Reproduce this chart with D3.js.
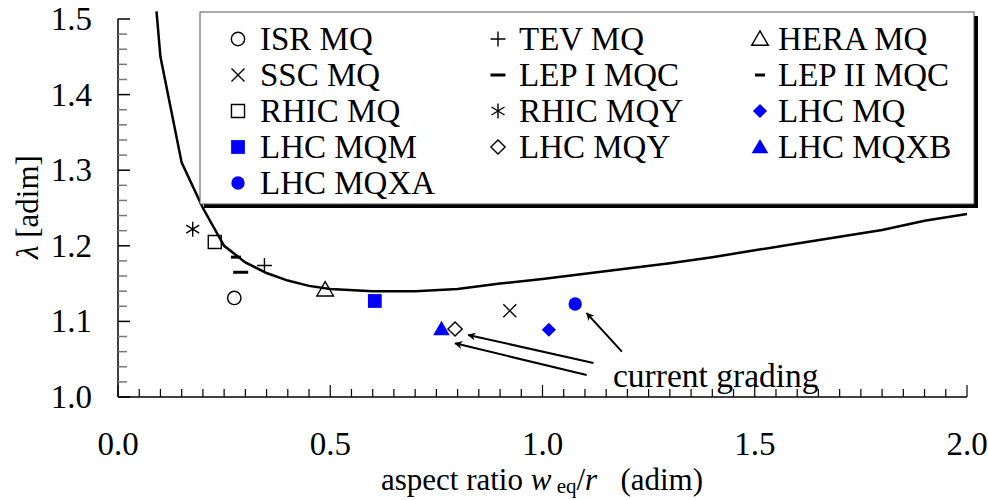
<!DOCTYPE html>
<html>
<head>
<meta charset="utf-8">
<style>
  body { margin: 0; background: #fff; }
  svg text { font-family: "Liberation Serif", "Times New Roman", Times, "DejaVu Serif", serif; }
  .tick-label { font-size: 33px; fill: #000; }
  .legend-label { font-size: 33px; fill: #000; }
  .axis-title { font-size: 31px; fill: #000; }
  .note { font-size: 33.5px; fill: #000; }
</style>
</head>
<body>
<svg width="988" height="500"></svg>
<script src="https://d3js.org/d3.v7.min.js"></script>
<script>
// magnet families
const series = ["ISR MQ", "TEV MQ", "HERA MQ",
                "SSC MQ", "LEP I MQC", "LEP II MQC",
                "RHIC MQ", "RHIC MQY", "LHC MQ",
                "LHC MQM", "LHC MQY", "LHC MQXB",
                "LHC MQXA"];
const aspectRatio = [0.274, 0.345, 0.488, 0.923, 0.289, 0.278, 0.228, 0.176, 1.015, 0.605, 0.794, 0.762, 1.077];
const lambdaVals  = [1.131, 1.174, 1.142, 1.114, 1.165, 1.185, 1.205, 1.222, 1.089, 1.127, 1.090, 1.090, 1.123];

// marker style per series
const markers = ["circle", "plus", "triangle", "x", "dashLong", "dashShort",
                 "square", "asterisk", "diamond", "square", "diamond", "triangle", "circle"];
const filled  = [false, false, false, false, false, false, false, false, true, true, false, true, true];

// lambda curve
const curveX = [0.0907, 0.10, 0.15, 0.20, 0.25, 0.30, 0.35, 0.40, 0.45, 0.50, 0.60, 0.70, 0.80,
                0.90, 1.00, 1.10, 1.20, 1.30, 1.40, 1.50, 1.60, 1.70, 1.80, 1.90, 2.00];
const curveY = [1.510, 1.450, 1.310, 1.250, 1.200, 1.178, 1.164, 1.154, 1.147, 1.143, 1.140, 1.140, 1.143,
                1.150, 1.156, 1.163, 1.170, 1.177, 1.185, 1.194, 1.203, 1.212, 1.221, 1.233, 1.242];

// "current grading" arrows: [x0, y0, x1, y1]
const arrows = [[1.120, 1.045, 0.825, 1.082],
                [1.104, 1.029, 0.794, 1.071],
                [1.187, 1.060, 1.104, 1.111]];

const xMajor = [0.0, 0.5, 1.0, 1.5, 2.0];
const yMajor = [1.0, 1.1, 1.2, 1.3, 1.4, 1.5];

const svg = d3.select("svg");

let x = d3.scaleLinear().domain([0, 2]).range([118, 967]);
let y = d3.scaleLinear().domain([1.0, 1.5]).range([397, 19]);

const blue = "#0000ff";

// axes lines
svg.append("line").attr("x1", 118).attr("x2", 967).attr("y1", 397).attr("y2", 397)
    .attr("stroke", "#000").attr("stroke-width", 1.5);
svg.append("line").attr("x1", 118).attr("x2", 118).attr("y1", 19).attr("y2", 397)
    .attr("stroke", "#000").attr("stroke-width", 1.5);

// x ticks (pointing inward)
let xMinor = d3.range(0, 41).map(i => i * 0.05);
svg.append("g").selectAll("line").data(xMinor).join("line")
    .attr("x1", d => x(d)).attr("x2", d => x(d))
    .attr("y1", 397)
    .attr("y2", (d, i) => i % 10 == 0 ? 385 : 389)
    .attr("stroke", "#000").attr("stroke-width", 1.2);

// y ticks
let yMinor = d3.range(0, 26).map(i => 1 + i * 0.02);
svg.append("g").selectAll("line").data(yMinor).join("line")
    .attr("x1", 118)
    .attr("x2", (d, i) => i % 5 == 0 ? 130 : 127)
    .attr("y1", d => y(d)).attr("y2", d => y(d))
    .attr("stroke", (d, i) => i % 5 == 0 ? "#000" : "#777")
    .attr("stroke-width", 1.5);

svg.append("g").selectAll("text").data(xMajor).join("text")
    .attr("class", "tick-label")
    .attr("x", d => x(d)).attr("y", 455)
    .attr("text-anchor", "middle")
    .text(d => d3.format(".1f")(d));

svg.append("g").selectAll("text").data(yMajor).join("text")
    .attr("class", "tick-label")
    .attr("x", 92).attr("y", d => y(d) + 11)
    .attr("text-anchor", "end")
    .text(d => d3.format(".1f")(d));

// axis titles
let xt = svg.append("text").attr("class", "axis-title")
    .attr("x", 542).attr("y", 490).attr("text-anchor", "middle")
    .attr("xml:space", "preserve");
xt.append("tspan").text("aspect ratio ");
xt.append("tspan").attr("font-style", "italic").text("w");
xt.append("tspan").attr("font-size", "21px").attr("dy", 3).text(" eq");
xt.append("tspan").attr("dy", -3).text("/");
xt.append("tspan").attr("font-style", "italic").text("r");
xt.append("tspan").text("   (adim)");

let yt = svg.append("text").attr("class", "axis-title")
    .attr("transform", "translate(38,207) rotate(-90)")
    .attr("text-anchor", "middle");
yt.append("tspan").attr("font-style", "italic").text("λ");
yt.append("tspan").text(" [adim]");

// the curve
let line = d3.line().x(d => x(d[0])).y(d => y(d[1]));
svg.append("path")
    .datum(curveX.map((v, i) => [v, curveY[i]]))
    .attr("d", line)
    .attr("fill", "none")
    .attr("stroke", "#000")
    .attr("stroke-width", 2.5);

// marker drawing
function marker(g, type, isFilled) {
    let col = isFilled ? blue : "#000";
    let sym = {
        circle: d3.symbolCircle, square: d3.symbolSquare,
        triangle: d3.symbolTriangle, diamond: d3.symbolSquare
    };
    if (sym[type]) {
        let size = { circle: 140, square: 170, triangle: 120, diamond: 100 }[type];
        if (isFilled && type == "square") size = 190;
        let tr = null;
        if (type == "triangle") tr = "translate(0,1.5)";
        if (type == "diamond") tr = "rotate(45)";
        g.append("path")
            .attr("d", d3.symbol().type(sym[type]).size(size))
            .attr("transform", tr)
            .attr("fill", isFilled ? col : "none")
            .attr("stroke", col)
            .attr("stroke-width", isFilled ? 0 : 1.4);
        return;
    }
    let p;
    if (type == "plus") p = "M-7.5,0H7.5M0,-7.5V7.5";
    if (type == "x") p = "M-6.5,-6.5L6.5,6.5M-6.5,6.5L6.5,-6.5";
    if (type == "asterisk") p = "M0,-7.5V7.5M-6.5,-4L6.5,4M-6.5,4L6.5,-4";
    if (type == "dashLong") p = "M-7.5,0H7.5";
    if (type == "dashShort") p = "M-5,0H5";
    g.append("path").attr("d", p)
        .attr("fill", "none")
        .attr("stroke", col)
        .attr("stroke-width", type.startsWith("dash") ? 3 : 1.4);
}

// data points
series.forEach((s, i) => {
    let g = svg.append("g")
        .attr("transform", `translate(${x(aspectRatio[i])},${y(lambdaVals[i])})`);
    marker(g, markers[i], filled[i]);
});

// annotation arrows
svg.append("defs").append("marker")
    .attr("id", "head")
    .attr("viewBox", "0 0 10 10")
    .attr("refX", 9).attr("refY", 5)
    .attr("markerWidth", 10).attr("markerHeight", 8)
    .attr("markerUnits", "userSpaceOnUse")
    .attr("orient", "auto")
    .append("path").attr("d", "M0,0L10,5L0,10L3,5Z").attr("fill", "#000");

svg.append("g").selectAll("line").data(arrows).join("line")
    .attr("x1", d => x(d[0])).attr("y1", d => y(d[1]))
    .attr("x2", d => x(d[2])).attr("y2", d => y(d[3]))
    .attr("stroke", "#000").attr("stroke-width", 2)
    .attr("marker-end", "url(#head)");

svg.append("text").attr("class", "note")
    .attr("x", 613)
    .attr("y", 387)
    .text("current grading");

// legend box with shadow
svg.append("rect").attr("x", 204).attr("y", 16).attr("width", 774).attr("height", 192).attr("fill", "#000");
svg.append("rect").attr("x", 200).attr("y", 12).attr("width", 774).attr("height", 192)
    .attr("fill", "#fff").attr("stroke", "#555").attr("stroke-width", 1);

let colSym = [238, 498, 760];
let colText = [260, 519, 778];
series.forEach((s, i) => {
    let row = Math.floor(i / 3), col = i % 3;
    let base = 50 + row * 36;
    let g = svg.append("g").attr("transform", `translate(${colSym[col]},${base - 11})`);
    marker(g, markers[i], filled[i]);
    svg.append("text").attr("class", "legend-label")
        .attr("x", colText[col]).attr("y", base)
        .text(s);
});
</script>
</body>
</html>
